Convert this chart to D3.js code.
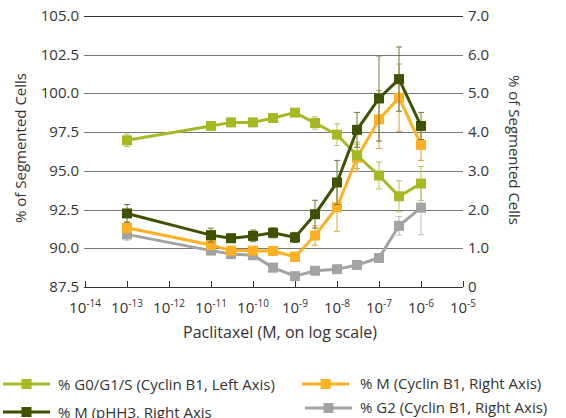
<!DOCTYPE html>
<html>
<head>
<meta charset="utf-8">
<script src="https://cdn.jsdelivr.net/npm/d3@7"></script>
<style>
  body { margin: 0; background: #fff; }
  svg { display: block; font-family: "Open Sans", sans-serif; }
</style>
</head>
<body>
<svg id="chart" width="566" height="418"></svg>
<script>
// concentrations (M) and series values
var conc = [1e-13, 1e-11, 3e-11, 1e-10, 3e-10, 1e-9, 3e-9, 1e-8, 3e-8, 1e-7, 3e-7, 1e-6];

var g0g1s = [96.97, 97.9, 98.13, 98.13, 98.41, 98.76, 98.09, 97.34, 96.0, 94.7, 93.36, 94.18];
var g0g1sErr = [0.4, 0.2, 0.15, 0.15, 0.12, 0.12, 0.4, 0.7, 0.85, 0.87, 1.0, 1.1];

var mPhh3 = [1.9, 1.34, 1.26, 1.32, 1.4, 1.28, 1.88, 2.7, 4.06, 4.87, 5.37, 4.16];
var mPhh3Err = [0.23, 0.18, 0.1, 0.15, 0.13, 0.13, 0.36, 0.57, 0.45, 1.1, 0.83, 0.35];

var mCyclin = [1.53, 1.085, 0.94, 0.94, 0.93, 0.78, 1.33, 2.06, 3.34, 4.33, 4.89, 3.67];
var mCyclinErr = [0.15, 0.1, 0.08, 0.1, 0.1, 0.12, 0.25, 0.62, 0.35, 0.75, 0.87, 0.4];

var g2 = [1.36, 0.94, 0.85, 0.82, 0.5, 0.28, 0.42, 0.46, 0.57, 0.75, 1.58, 2.05];
var g2Err = [0.15, 0.1, 0.08, 0.05, 0.05, 0.05, 0.05, 0.06, 0.1, 0.08, 0.24, 0.7];

var xTicks = [-14, -13, -12, -11, -10, -9, -8, -7, -6, -5];
var leftTicks = [87.5, 90, 92.5, 95, 97.5, 100, 102.5, 105];
var rightTicks = [0, 1, 2, 3, 4, 5, 6, 7];

var svg = d3.select("#chart");

var x = d3.scaleLog().domain([1e-14, 1e-5]).range([85, 463]);
var yL = d3.scaleLinear().domain([87.5, 105]).range([287, 16]);
var yR = d3.scaleLinear().domain([0, 7]).range([287, 16]);

// grid lines
svg.append("g").selectAll("line")
    .data(leftTicks)
  .enter().append("line")
    .attr("x1", 84).attr("x2", 463)
    .attr("y1", function(d) { return Math.round(yL(d)) + 0.5; })
    .attr("y2", function(d) { return Math.round(yL(d)) + 0.5; })
    .attr("stroke", function(d, i) { return i == 0 || i == leftTicks.length - 1 ? "#333" : "#777"; })
    .attr("stroke-width", 1);

// x tick marks
svg.append("g").selectAll("line")
    .data(xTicks)
  .enter().append("line")
    .attr("x1", function(d) { return Math.round(x(Math.pow(10, d))) + 0.5; })
    .attr("x2", function(d) { return Math.round(x(Math.pow(10, d))) + 0.5; })
    .attr("y1", 281).attr("y2", 287)
    .attr("stroke", "#333");

// left tick labels
svg.append("g").selectAll("text")
    .data(leftTicks)
  .enter().append("text")
    .attr("x", 79)
    .attr("y", function(d) { return yL(d) + 5; })
    .attr("text-anchor", "end")
    .attr("font-size", 15)
    .attr("fill", "#333")
    .text(function(d) { return d.toFixed(1); });

// right tick labels
svg.append("g").selectAll("text")
    .data(rightTicks)
  .enter().append("text")
    .attr("x", 468)
    .attr("y", function(d) { return yR(d) + 5; })
    .attr("font-size", 15)
    .attr("fill", "#333")
    .text(function(d) { return d == 0 ? "0" : d.toFixed(1); });

// x tick labels: 10 with superscript exponent
var xl = svg.append("g").selectAll("text")
    .data(xTicks)
  .enter().append("text")
    .attr("x", function(d) { return x(Math.pow(10, d)); })
    .attr("y", 313)
    .attr("text-anchor", "middle")
    .attr("font-size", 15)
    .attr("fill", "#333");
xl.append("tspan").text("10");
xl.append("tspan")
    .attr("font-size", 10)
    .attr("dy", -6)
    .text(function(d) { return "-" + (-d); });

// axis titles
svg.append("text")
    .attr("transform", "translate(26,148) rotate(-90)")
    .attr("text-anchor", "middle")
    .attr("font-size", 15)
    .attr("fill", "#333")
    .text("% of Segmented Cells");

svg.append("text")
    .attr("transform", "translate(509,150) rotate(90)")
    .attr("text-anchor", "middle")
    .attr("font-size", 15)
    .attr("fill", "#333")
    .text("% of Segmented Cells");

svg.append("text")
    .attr("x", 280).attr("y", 338)
    .attr("text-anchor", "middle")
    .attr("font-size", 16)
    .attr("fill", "#333")
    .text("Paclitaxel (M, on log scale)");

// series drawn bottom to top
var series = [
  { name: "% G2 (Cyclin B1, Right Axis)", values: g2, err: g2Err, y: yR, color: "#a3a3a3", errColor: "#bdbdbd" },
  { name: "% M (Cyclin B1, Right Axis)", values: mCyclin, err: mCyclinErr, y: yR, color: "#fdb022", errColor: "#d8a040" },
  { name: "% G0/G1/S (Cyclin B1, Left Axis)", values: g0g1s, err: g0g1sErr, y: yL, color: "#a8b825", errColor: "#b9c45a" },
  { name: "% M (pHH3, Right Axis", values: mPhh3, err: mPhh3Err, y: yR, color: "#3f5200", errColor: "#6b7a3a" }
];

series.forEach(function(s) {
  var pts = conc.map(function(c, i) { return { c: c, v: s.values[i], e: s.err[i] }; });
  var g = svg.append("g");

  var eb = g.selectAll(".eb").data(pts).enter().append("g");
  eb.append("line")
      .attr("x1", function(d) { return x(d.c); })
      .attr("x2", function(d) { return x(d.c); })
      .attr("y1", function(d) { return s.y(d.v + d.e); })
      .attr("y2", function(d) { return s.y(d.v - d.e); })
      .attr("stroke", s.errColor);
  [1, -1].forEach(function(sign) {
    eb.append("line")
        .attr("x1", function(d) { return x(d.c) - 3; })
        .attr("x2", function(d) { return x(d.c) + 3; })
        .attr("y1", function(d) { return s.y(d.v + sign * d.e); })
        .attr("y2", function(d) { return s.y(d.v + sign * d.e); })
        .attr("stroke", s.errColor);
  });

  var line = d3.line()
      .x(function(d) { return x(d.c); })
      .y(function(d) { return s.y(d.v); });

  g.append("path")
      .datum(pts)
      .attr("d", line)
      .attr("fill", "none")
      .attr("stroke", s.color)
      .attr("stroke-width", 3);

  g.selectAll("rect").data(pts).enter().append("rect")
      .attr("x", function(d) { return x(d.c) - 5; })
      .attr("y", function(d) { return s.y(d.v) - 5; })
      .attr("width", 10).attr("height", 10)
      .attr("fill", s.color);
});

// legend
var legend = [
  { s: series[2], x1: 3, x2: 50, ly: 384, tx: 58, ty: 390 },
  { s: series[3], x1: 3, x2: 50, ly: 412, tx: 58, ty: 418 },
  { s: series[1], x1: 302, x2: 349, ly: 384, tx: 360, ty: 389 },
  { s: series[0], x1: 305, x2: 352, ly: 408, tx: 360, ty: 413 }
];

var lg = svg.append("g").selectAll("g").data(legend).enter().append("g");
lg.append("line")
    .attr("x1", function(d) { return d.x1; })
    .attr("x2", function(d) { return d.x2; })
    .attr("y1", function(d) { return d.ly; })
    .attr("y2", function(d) { return d.ly; })
    .attr("stroke", function(d) { return d.s.color; })
    .attr("stroke-width", 3);
lg.append("rect")
    .attr("x", function(d) { return (d.x1 + d.x2) / 2 - 5; })
    .attr("y", function(d) { return d.ly - 5; })
    .attr("width", 10).attr("height", 10)
    .attr("fill", function(d) { return d.s.color; });
lg.append("text")
    .attr("x", function(d) { return d.tx; })
    .attr("y", function(d) { return d.ty; })
    .attr("font-size", 15)
    .attr("fill", "#333")
    .text(function(d) { return d.s.name; });
</script>
</body>
</html>
